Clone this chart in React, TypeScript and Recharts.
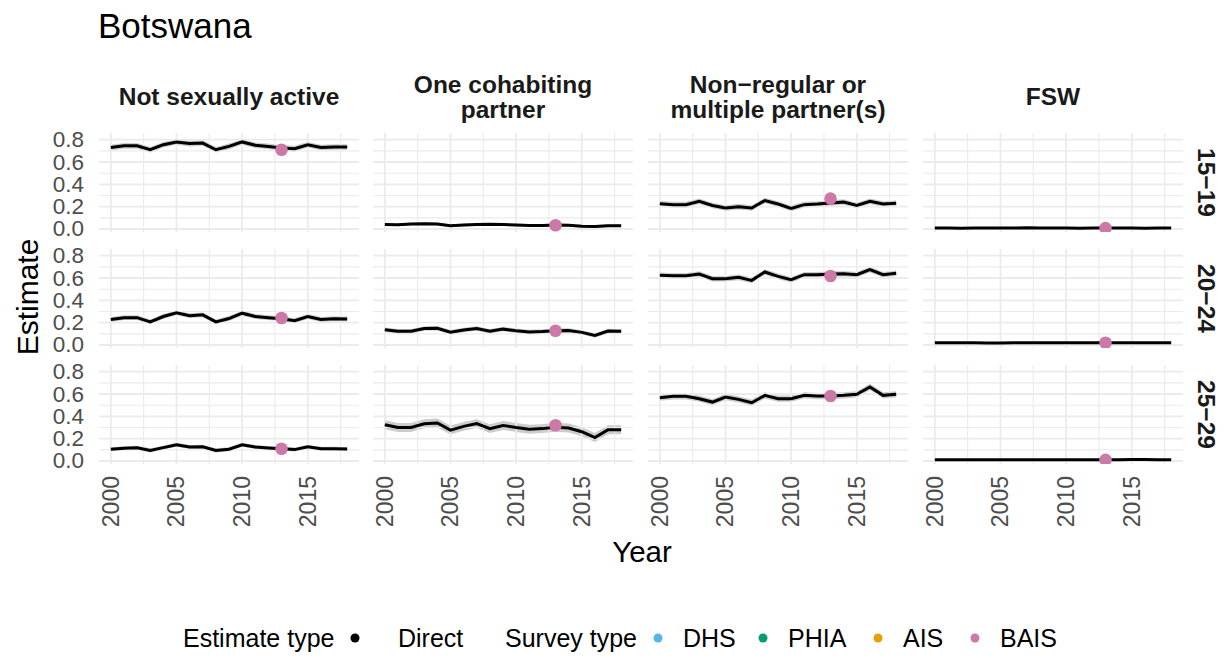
import React from 'react';
import { ComposedChart, Area, Line, Scatter, XAxis, YAxis, ReferenceLine } from 'recharts';

const FONT = '"Liberation Sans", Arial, Helvetica, sans-serif';

const YEARS = [2000, 2001, 2002, 2003, 2004, 2005, 2006, 2007, 2008, 2009, 2010, 2011, 2012, 2013, 2014, 2015, 2016, 2017, 2018];
const X_TICKS = [2000, 2005, 2010, 2015];
const X_MINOR = [2002.5, 2007.5, 2012.5, 2017.5];
const Y_TICKS = [0, 0.2, 0.4, 0.6, 0.8];
const Y_MINOR = [0.1, 0.3, 0.5, 0.7];

const RISK_GROUPS = [['Not sexually active'], ['One cohabiting', 'partner'], ['Non\u2212regular or', 'multiple partner(s)'], ['FSW']];
const AGE_GROUPS = ['15\u221219', '20\u221224', '25\u221229'];

const LEGEND_SURVEYS = ['DHS', 'PHIA', 'AIS', 'BAIS'];
const SURVEY_COLORS = ['#56B4E9', '#009E73', '#E69F00', '#CC79A7'];
const SURVEY_YEAR = 2013;

// Not sexually active
const notActive15Est = [0.73, 0.745, 0.745, 0.71, 0.755, 0.78, 0.765, 0.77, 0.71, 0.74, 0.78, 0.75, 0.74, 0.725, 0.72, 0.755, 0.73, 0.735, 0.735];
const notActive15Lo = [0.705, 0.72, 0.72, 0.685, 0.73, 0.755, 0.74, 0.745, 0.685, 0.715, 0.755, 0.725, 0.715, 0.7, 0.695, 0.73, 0.705, 0.71, 0.71];
const notActive15Hi = [0.755, 0.77, 0.77, 0.735, 0.78, 0.805, 0.79, 0.795, 0.735, 0.765, 0.805, 0.775, 0.765, 0.75, 0.745, 0.78, 0.755, 0.76, 0.76];
const notActive20Est = [0.228, 0.245, 0.245, 0.207, 0.255, 0.288, 0.263, 0.27, 0.207, 0.237, 0.285, 0.255, 0.245, 0.235, 0.218, 0.255, 0.228, 0.235, 0.233];
const notActive20Lo = [0.206, 0.223, 0.223, 0.185, 0.233, 0.266, 0.241, 0.248, 0.185, 0.215, 0.263, 0.233, 0.223, 0.213, 0.196, 0.233, 0.206, 0.213, 0.211];
const notActive20Hi = [0.25, 0.267, 0.267, 0.229, 0.277, 0.31, 0.285, 0.292, 0.229, 0.259, 0.307, 0.277, 0.267, 0.257, 0.24, 0.277, 0.25, 0.257, 0.255];
const notActive25Est = [0.105, 0.115, 0.118, 0.095, 0.12, 0.145, 0.125, 0.127, 0.095, 0.105, 0.145, 0.125, 0.117, 0.11, 0.102, 0.128, 0.11, 0.11, 0.108];
const notActive25Lo = [0.087, 0.097, 0.1, 0.077, 0.102, 0.127, 0.107, 0.109, 0.077, 0.087, 0.127, 0.107, 0.099, 0.092, 0.084, 0.11, 0.092, 0.092, 0.09];
const notActive25Hi = [0.123, 0.133, 0.136, 0.113, 0.138, 0.163, 0.143, 0.145, 0.113, 0.123, 0.163, 0.143, 0.135, 0.128, 0.12, 0.146, 0.128, 0.128, 0.126];

// One cohabiting partner
const oneCohab15Est = [0.04, 0.037, 0.045, 0.048, 0.044, 0.028, 0.035, 0.04, 0.042, 0.04, 0.035, 0.032, 0.032, 0.035, 0.033, 0.025, 0.022, 0.03, 0.03];
const oneCohab15Lo = [0.028, 0.025, 0.033, 0.036, 0.032, 0.016, 0.023, 0.028, 0.03, 0.028, 0.023, 0.02, 0.02, 0.023, 0.021, 0.013, 0.01, 0.018, 0.018];
const oneCohab15Hi = [0.052, 0.049, 0.057, 0.06, 0.056, 0.04, 0.047, 0.052, 0.054, 0.052, 0.047, 0.044, 0.044, 0.047, 0.045, 0.037, 0.034, 0.042, 0.042];
const oneCohab20Est = [0.137, 0.123, 0.123, 0.148, 0.15, 0.115, 0.134, 0.148, 0.123, 0.142, 0.128, 0.117, 0.12, 0.128, 0.13, 0.113, 0.085, 0.125, 0.122];
const oneCohab20Lo = [0.117, 0.103, 0.103, 0.128, 0.13, 0.095, 0.114, 0.128, 0.103, 0.122, 0.108, 0.097, 0.1, 0.108, 0.11, 0.093, 0.065, 0.105, 0.102];
const oneCohab20Hi = [0.157, 0.143, 0.143, 0.168, 0.17, 0.135, 0.154, 0.168, 0.143, 0.162, 0.148, 0.137, 0.14, 0.148, 0.15, 0.133, 0.105, 0.145, 0.142];
const oneCohab25Est = [0.325, 0.3, 0.3, 0.333, 0.34, 0.277, 0.31, 0.335, 0.29, 0.318, 0.3, 0.285, 0.29, 0.303, 0.296, 0.262, 0.21, 0.28, 0.28];
const oneCohab25Lo = [0.285, 0.26, 0.26, 0.293, 0.3, 0.237, 0.27, 0.295, 0.25, 0.278, 0.26, 0.245, 0.25, 0.263, 0.256, 0.222, 0.17, 0.24, 0.24];
const oneCohab25Hi = [0.365, 0.34, 0.34, 0.373, 0.38, 0.317, 0.35, 0.375, 0.33, 0.358, 0.34, 0.325, 0.33, 0.343, 0.336, 0.302, 0.25, 0.32, 0.32];

// Non-regular or multiple partner(s)
const nonRegular15Est = [0.227, 0.218, 0.218, 0.248, 0.21, 0.188, 0.2, 0.188, 0.255, 0.224, 0.185, 0.218, 0.224, 0.233, 0.242, 0.21, 0.248, 0.224, 0.23];
const nonRegular15Lo = [0.202, 0.193, 0.193, 0.223, 0.185, 0.163, 0.175, 0.163, 0.23, 0.199, 0.16, 0.193, 0.199, 0.208, 0.217, 0.185, 0.223, 0.199, 0.205];
const nonRegular15Hi = [0.252, 0.243, 0.243, 0.273, 0.235, 0.213, 0.225, 0.213, 0.28, 0.249, 0.21, 0.243, 0.249, 0.258, 0.267, 0.235, 0.273, 0.249, 0.255];
const nonRegular20Est = [0.624, 0.621, 0.621, 0.636, 0.594, 0.594, 0.606, 0.579, 0.654, 0.615, 0.585, 0.63, 0.63, 0.636, 0.639, 0.63, 0.675, 0.63, 0.642];
const nonRegular20Lo = [0.599, 0.596, 0.596, 0.611, 0.569, 0.569, 0.581, 0.554, 0.629, 0.59, 0.56, 0.605, 0.605, 0.611, 0.614, 0.605, 0.65, 0.605, 0.617];
const nonRegular20Hi = [0.649, 0.646, 0.646, 0.661, 0.619, 0.619, 0.631, 0.604, 0.679, 0.64, 0.61, 0.655, 0.655, 0.661, 0.664, 0.655, 0.7, 0.655, 0.667];
const nonRegular25Est = [0.567, 0.579, 0.579, 0.558, 0.528, 0.573, 0.552, 0.522, 0.588, 0.558, 0.558, 0.588, 0.582, 0.582, 0.588, 0.597, 0.663, 0.588, 0.597];
const nonRegular25Lo = [0.539, 0.551, 0.551, 0.53, 0.5, 0.545, 0.524, 0.494, 0.56, 0.53, 0.53, 0.56, 0.554, 0.554, 0.56, 0.569, 0.635, 0.56, 0.569];
const nonRegular25Hi = [0.595, 0.607, 0.607, 0.586, 0.556, 0.601, 0.58, 0.55, 0.616, 0.586, 0.586, 0.616, 0.61, 0.61, 0.616, 0.625, 0.691, 0.616, 0.625];

// FSW
const fsw15Est = [0.008, 0.008, 0.007, 0.008, 0.009, 0.008, 0.008, 0.01, 0.009, 0.008, 0.008, 0.007, 0.008, 0.008, 0.009, 0.008, 0.007, 0.008, 0.008];
const fsw15Lo = [0.004, 0.004, 0.003, 0.004, 0.005, 0.004, 0.004, 0.006, 0.005, 0.004, 0.004, 0.003, 0.004, 0.004, 0.005, 0.004, 0.003, 0.004, 0.004];
const fsw15Hi = [0.012, 0.012, 0.011, 0.012, 0.013, 0.012, 0.012, 0.014, 0.013, 0.012, 0.012, 0.011, 0.012, 0.012, 0.013, 0.012, 0.011, 0.012, 0.012];
const fsw20Est = [0.02, 0.02, 0.02, 0.02, 0.018, 0.018, 0.019, 0.02, 0.02, 0.02, 0.019, 0.02, 0.02, 0.02, 0.02, 0.02, 0.02, 0.02, 0.02];
const fsw20Lo = [0.015, 0.015, 0.015, 0.015, 0.013, 0.013, 0.014, 0.015, 0.015, 0.015, 0.014, 0.015, 0.015, 0.015, 0.015, 0.015, 0.015, 0.015, 0.015];
const fsw20Hi = [0.025, 0.025, 0.025, 0.025, 0.023, 0.023, 0.024, 0.025, 0.025, 0.025, 0.024, 0.025, 0.025, 0.025, 0.025, 0.025, 0.025, 0.025, 0.025];
const fsw25Est = [0.01, 0.01, 0.01, 0.01, 0.01, 0.01, 0.01, 0.01, 0.01, 0.01, 0.01, 0.01, 0.01, 0.01, 0.011, 0.013, 0.013, 0.012, 0.011];
const fsw25Lo = [0.006, 0.006, 0.006, 0.006, 0.006, 0.006, 0.006, 0.006, 0.006, 0.006, 0.006, 0.006, 0.006, 0.006, 0.007, 0.009, 0.009, 0.008, 0.007];
const fsw25Hi = [0.014, 0.014, 0.014, 0.014, 0.014, 0.014, 0.014, 0.014, 0.014, 0.014, 0.014, 0.014, 0.014, 0.014, 0.015, 0.017, 0.017, 0.016, 0.015];

// BAIS 2013 survey estimates, rows = age groups
const baisNotActive = [0.71, 0.242, 0.11];
const baisOneCohab = [0.033, 0.128, 0.32];
const baisNonRegular = [0.272, 0.618, 0.582];
const baisFsw = [0.008, 0.02, 0.01];

const EST = [
  [notActive15Est, notActive20Est, notActive25Est],
  [oneCohab15Est, oneCohab20Est, oneCohab25Est],
  [nonRegular15Est, nonRegular20Est, nonRegular25Est],
  [fsw15Est, fsw20Est, fsw25Est],
];
const LO = [
  [notActive15Lo, notActive20Lo, notActive25Lo],
  [oneCohab15Lo, oneCohab20Lo, oneCohab25Lo],
  [nonRegular15Lo, nonRegular20Lo, nonRegular25Lo],
  [fsw15Lo, fsw20Lo, fsw25Lo],
];
const HI = [
  [notActive15Hi, notActive20Hi, notActive25Hi],
  [oneCohab15Hi, oneCohab20Hi, oneCohab25Hi],
  [nonRegular15Hi, nonRegular20Hi, nonRegular25Hi],
  [fsw15Hi, fsw20Hi, fsw25Hi],
];
const BAIS = [baisNotActive, baisOneCohab, baisNonRegular, baisFsw];

// layout
const PLOT_W = 260;
const PLOT_H = 99;
const PAD = 14; // room above / below each panel so tick labels are not clipped
const COL_X = [99, 373, 648, 923];
const ROW_Y = [133, 249, 365];
const Y_AXIS_W = 60;
const X_AXIS_H = 70;
const X_DOMAIN = [1999.1, 2018.9];
const Y_DOMAIN = [-0.027, 0.86];
const GRID = '#ebebeb';

const XTick = (props: any) => {
  const { x, y, payload } = props;
  return (
    <text x={x} y={y} transform={`rotate(-90 ${x} ${y})`} textAnchor="end" dominantBaseline="central"
      fill="#4d4d4d" fontSize={23} fontFamily={FONT}>
      {String(payload.value)}
    </text>
  );
};

const YTick = (props: any) => {
  const { x, y, payload } = props;
  return (
    <text x={x} y={y} textAnchor="end" dominantBaseline="central" fill="#4d4d4d" fontSize={22.5} fontFamily={FONT}>
      {Number(payload.value).toFixed(1)}
    </text>
  );
};

const Panel = ({ col, row }: { col: number; row: number }) => {
  const showY = col === 0;
  const showX = row === 2;
  const w = PLOT_W + (showY ? Y_AXIS_W : 0);
  const h = PLOT_H + (showX ? X_AXIS_H : 0) + PAD * 2;
  const data = YEARS.map((year, i) => ({
    year,
    est: EST[col][row][i],
    band: [LO[col][row][i], HI[col][row][i]],
  }));
  const survey = [{ year: SURVEY_YEAR, est: BAIS[col][row] }];
  return (
    <div style={{ position: 'absolute', left: COL_X[col] - (showY ? Y_AXIS_W : 0), top: ROW_Y[row] - PAD, width: w, height: h }}>
      <ComposedChart width={w} height={h} data={data} margin={{ top: PAD, right: 0, bottom: PAD, left: 0 }}>
        <XAxis type="number" dataKey="year" domain={X_DOMAIN} ticks={X_TICKS} allowDataOverflow hide={!showX}
          height={X_AXIS_H} axisLine={false} tickLine={false} tickSize={0} tickMargin={12} tick={<XTick />} interval={0} />
        <YAxis type="number" domain={Y_DOMAIN} ticks={Y_TICKS} allowDataOverflow hide={!showY}
          width={Y_AXIS_W} axisLine={false} tickLine={false} tickSize={0} tickMargin={15} tick={<YTick />} interval={0} />
        {Y_MINOR.map((v) => <ReferenceLine key={`ym${v}`} y={v} stroke={GRID} strokeWidth={1.1} />)}
        {X_MINOR.map((v) => <ReferenceLine key={`xm${v}`} x={v} stroke={GRID} strokeWidth={1.1} />)}
        {Y_TICKS.map((v) => <ReferenceLine key={`y${v}`} y={v} stroke={GRID} strokeWidth={1.8} />)}
        {X_TICKS.map((v) => <ReferenceLine key={`x${v}`} x={v} stroke={GRID} strokeWidth={1.8} />)}
        <Area type="linear" dataKey="band" stroke="none" fill="#808080" fillOpacity={0.4} isAnimationActive={false} />
        <Line type="linear" dataKey="est" stroke="#000000" strokeWidth={3} dot={false} isAnimationActive={false} />
        <Scatter data={survey} dataKey="est" isAnimationActive={false}
          shape={(p: any) => <circle cx={p.cx} cy={p.cy} r={6.3} fill={SURVEY_COLORS[3]} />} />
      </ComposedChart>
    </div>
  );
};

const textStyle = { fontFamily: FONT };

export default function App() {
  const legendY = 638;
  return (
    <div style={{ position: 'absolute', left: 0, top: 0, width: 1226, height: 658, background: '#ffffff', overflow: 'hidden' }}>
      <svg width={1226} height={658} style={{ position: 'absolute', left: 0, top: 0 }}>
        <text x={98} y={38} fontSize={35} fill="#000" style={textStyle}>Botswana</text>
        {RISK_GROUPS.map((lines, c) => {
          const cx = COL_X[c] + PLOT_W / 2;
          const ys = lines.length === 1 ? [105] : [93, 118];
          return lines.map((t, k) => (
            <text key={`s${c}${k}`} x={cx} y={ys[k]} textAnchor="middle" fontSize={24.5} fontWeight="bold" fill="#1a1a1a" style={textStyle}>{t}</text>
          ));
        })}
        {AGE_GROUPS.map((t, r) => {
          const cy = ROW_Y[r] + PLOT_H / 2;
          return (
            <text key={`a${r}`} x={1206} y={cy} transform={`rotate(90 1206 ${cy})`} textAnchor="middle" dominantBaseline="central"
              fontSize={24.5} fontWeight="bold" fill="#1a1a1a" style={textStyle}>{t}</text>
          );
        })}
        <text x={27} y={297} transform="rotate(-90 27 297)" textAnchor="middle" dominantBaseline="central" fontSize={30} fill="#000" style={textStyle}>Estimate</text>
        <text x={642} y={562} textAnchor="middle" fontSize={29.5} fill="#000" style={textStyle}>Year</text>

        <g style={textStyle} fontSize={25} fill="#000">
          <text x={183} y={legendY} dominantBaseline="central">Estimate type</text>
          <circle cx={355} cy={legendY} r={4.5} fill="#000" />
          <text x={398} y={legendY} dominantBaseline="central">Direct</text>
          <text x={505} y={legendY} dominantBaseline="central">Survey type</text>
          {LEGEND_SURVEYS.map((s, i) => {
            const dotX = [658, 763, 878, 975][i];
            return (
              <g key={s}>
                <circle cx={dotX} cy={legendY} r={4.5} fill={SURVEY_COLORS[i]} />
                <text x={dotX + 25} y={legendY} dominantBaseline="central">{s}</text>
              </g>
            );
          })}
        </g>
      </svg>
      {[0, 1, 2, 3].map((c) => [0, 1, 2].map((r) => <Panel key={`p${c}${r}`} col={c} row={r} />))}
    </div>
  );
}
